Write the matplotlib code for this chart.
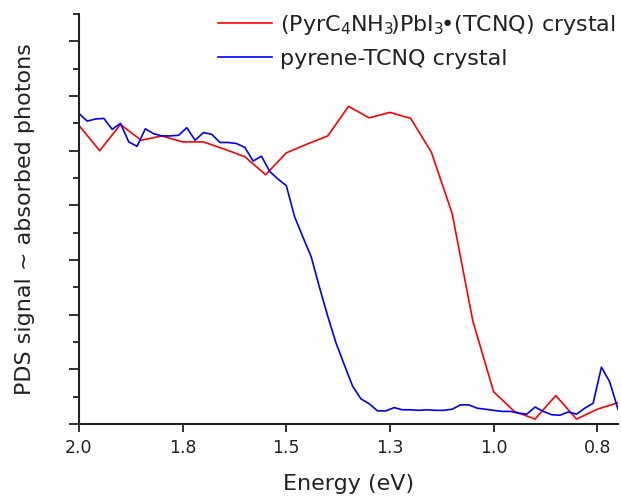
import matplotlib
matplotlib.use("Agg")
import matplotlib.pyplot as plt
from matplotlib.ticker import MultipleLocator

# Red series: (PyrC4NH3)PbI3•(TCNQ) crystal
red_energy = [2.00, 1.95, 1.90, 1.85, 1.80, 1.75, 1.70, 1.65, 1.60, 1.55, 1.50, 1.45,
              1.40, 1.35, 1.30, 1.25, 1.20, 1.15, 1.10, 1.05, 1.00, 0.95, 0.90, 0.85,
              0.80, 0.75, 0.70]
red_signal = [5.46, 5.00, 5.48, 5.19, 5.27, 5.16, 5.16, 5.03, 4.89, 4.56, 4.96, 5.12,
              5.27, 5.81, 5.60, 5.70, 5.59, 4.97, 3.85, 1.88, 0.59, 0.23, 0.09, 0.52,
              0.09, 0.27, 0.39]

# Blue series: pyrene-TCNQ crystal
blue_energy = [2.00, 1.98, 1.96, 1.94, 1.92, 1.90, 1.88, 1.86, 1.84, 1.82, 1.80, 1.78,
               1.76, 1.74, 1.72, 1.70, 1.68, 1.66, 1.64, 1.62, 1.60, 1.58, 1.56, 1.54,
               1.52, 1.50, 1.48, 1.46, 1.44, 1.42, 1.40, 1.38, 1.36, 1.34, 1.32, 1.30,
               1.28, 1.26, 1.24, 1.22, 1.20, 1.18, 1.16, 1.14, 1.12, 1.10, 1.08, 1.06,
               1.04, 1.02, 1.00, 0.98, 0.96, 0.94, 0.92, 0.90, 0.88, 0.86, 0.84, 0.82,
               0.80, 0.78, 0.76, 0.74, 0.72, 0.70]
blue_signal = [5.68, 5.54, 5.58, 5.59, 5.39, 5.50, 5.16, 5.08, 5.40, 5.31, 5.27, 5.27,
               5.28, 5.42, 5.19, 5.33, 5.30, 5.15, 5.15, 5.13, 5.06, 4.81, 4.90, 4.62,
               4.48, 4.36, 3.79, 3.42, 3.06, 2.50, 1.97, 1.48, 1.08, 0.69, 0.46, 0.37,
               0.24, 0.24, 0.30, 0.26, 0.26, 0.25, 0.26, 0.25, 0.25, 0.27, 0.35, 0.35,
               0.29, 0.27, 0.25, 0.23, 0.23, 0.20, 0.18, 0.31, 0.23, 0.17, 0.16, 0.22,
               0.18, 0.29, 0.38, 1.04, 0.77, 0.27]

x_ticks = [2.0, 1.75, 1.5, 1.25, 1.0, 0.75]
x_ticklabels = ['2.0', '1.8', '1.5', '1.3', '1.0', '0.8']

red_label = r"(PyrC$_4$NH$_3\!$)PbI$_3\!$•(TCNQ) crystal"
blue_label = "pyrene-TCNQ crystal"

fig = plt.figure(figsize=(6.21, 4.97), dpi=100)
ax = fig.add_axes([79/621, (497-424)/497, 539/621, 410/497])

ax.plot(red_energy, red_signal, color='#ff0000', lw=1.2, label=red_label)
ax.plot(blue_energy, blue_signal, color='#0000ff', lw=1.2, label=blue_label)

ax.set_xlim(2.0, 0.7)
ax.set_ylim(0, 7.5)
ax.set_xticks(x_ticks)
ax.set_xticklabels(x_ticklabels)
ax.yaxis.set_major_locator(MultipleLocator(1))
ax.yaxis.set_minor_locator(MultipleLocator(0.5))
ax.set_yticklabels([])

for s in ['top', 'right']:
    ax.spines[s].set_visible(False)
for s in ['left', 'bottom']:
    ax.spines[s].set_linewidth(1.5)
    ax.spines[s].set_color('#222222')

ax.tick_params(axis='x', which='major', length=6, width=1.3, labelsize=12.5, pad=5,
               color='#222222', labelcolor='#222222')
ax.tick_params(axis='y', which='major', length=7, width=1.3, color='#222222')
ax.tick_params(axis='y', which='minor', length=4, width=1.3, color='#222222')

ax.set_xlabel("Energy (eV)", fontsize=16, color='#222222', labelpad=12)
ax.set_ylabel("PDS signal ~ absorbed photons", fontsize=16, color='#222222', labelpad=21)

leg = ax.legend(loc='upper left', bbox_to_anchor=(218/621, 1 - 13/497),
                bbox_transform=fig.transFigure, frameon=False, fontsize=16,
                handlelength=2.43, handletextpad=0.36, labelspacing=0.55,
                borderaxespad=0, borderpad=0)
for t in leg.get_texts():
    t.set_color('#222222')

fig.savefig("out.png", dpi=100)
